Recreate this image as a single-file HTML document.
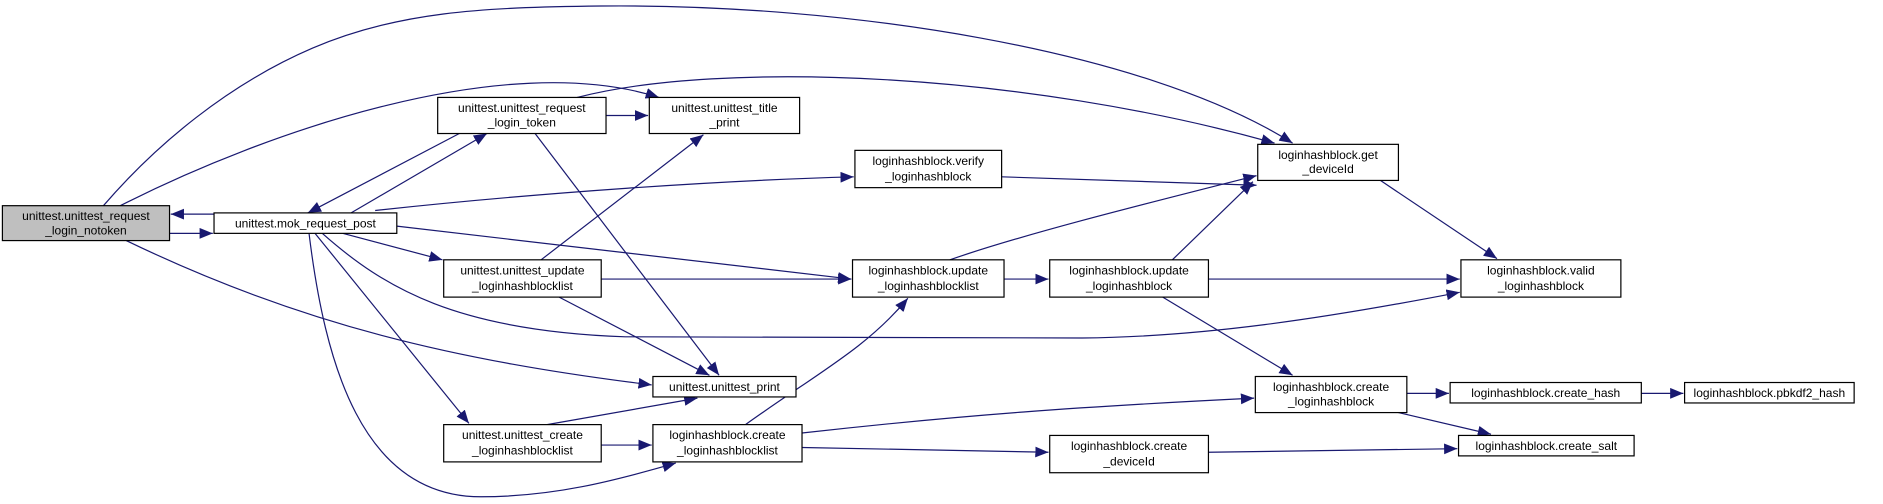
<!DOCTYPE html>
<html><head><meta charset="utf-8"><style>html,body{margin:0;padding:0;background:#fff}svg{display:block}</style></head>
<body>
<svg width="1883" height="504" viewBox="0 0 1566 419" preserveAspectRatio="none" xmlns="http://www.w3.org/2000/svg">
<defs>
<marker id="a" markerUnits="userSpaceOnUse" markerWidth="12" markerHeight="10" refX="11" refY="4.5" orient="auto">
<path d="M0,0 L11,4.5 L0,9 Z" fill="#191970"/>
</marker>
</defs>
<g fill="none" stroke="#191970" stroke-width="1" marker-end="url(#a)">
<path d="M86,171 C130,120 190,70 260,40 C330,10 400,6 500,5 C700,3 950,40 1075,119"/>
<path d="M100,171 C220,110 420,40 548,81"/>
<path d="M178,178 L142,178"/>
<path d="M141,194 L177,194"/>
<path d="M292,177 L405,111"/>
<path d="M382,111 L256,177"/>
<path d="M504,96 L539,96"/>
<path d="M480,81 C600,50 850,60 1060,119"/>
<path d="M445,111 L598,312"/>
<path d="M312,175 C450,160 600,150 710,147"/>
<path d="M330,188 L708,232"/>
<path d="M285,194 L368,216"/>
<path d="M268,194 C320,240 380,275 520,280 L900,281 C1000,280 1100,265 1214,243"/>
<path d="M105,200 C250,270 380,300 542,320"/>
<path d="M262,194 L390,352"/>
<path d="M257,194 C270,300 300,413 400,413 C460,413 510,400 562,385"/>
<path d="M450,216 L585,112"/>
<path d="M500,232 L708,232"/>
<path d="M465,247 L590,312"/>
<path d="M455,353 L580,331"/>
<path d="M500,370 L542,370"/>
<path d="M620,353 C680,310 720,290 755,248"/>
<path d="M667,360 C800,345 900,338 1043,331"/>
<path d="M667,372 L872,376"/>
<path d="M790,216 C850,195 950,170 1045,146"/>
<path d="M835,232 L872,232"/>
<path d="M833,147 L1045,154"/>
<path d="M975,216 L1042,151"/>
<path d="M1005,232 L1214,232"/>
<path d="M967,247 L1075,312"/>
<path d="M1148,150 L1245,215"/>
<path d="M1170,327 L1205,327"/>
<path d="M1163,343 L1240,361"/>
<path d="M1365,327 L1400,327"/>
<path d="M1005,376 L1212,373"/>
</g>
<g stroke="#000" stroke-width="1" fill="#fff">
<rect x="2" y="171" width="139" height="29" fill="#bfbfbf"/>
<rect x="178" y="177" width="152" height="17"/>
<rect x="364" y="81" width="140" height="30"/>
<rect x="540" y="81" width="125" height="30"/>
<rect x="711" y="125" width="122" height="31"/>
<rect x="1046" y="120" width="117" height="30"/>
<rect x="369" y="216" width="131" height="31"/>
<rect x="709" y="216" width="126" height="31"/>
<rect x="873" y="216" width="132" height="31"/>
<rect x="1215" y="216" width="133" height="31"/>
<rect x="543" y="313" width="119" height="17"/>
<rect x="369" y="353" width="131" height="31"/>
<rect x="543" y="353" width="124" height="31"/>
<rect x="1044" y="313" width="126" height="30"/>
<rect x="1206" y="318" width="159" height="17"/>
<rect x="1401" y="318" width="141" height="17"/>
<rect x="873" y="362" width="132" height="31"/>
<rect x="1213" y="362" width="146" height="17"/>
</g>
<g font-family="Liberation Sans, sans-serif" font-size="10" fill="#000" text-anchor="middle">
<text x="71.5" y="183">unittest.unittest_request</text><text x="71.5" y="195">_login_notoken</text>
<text x="254" y="189">unittest.mok_request_post</text>
<text x="434" y="93">unittest.unittest_request</text><text x="434" y="105">_login_token</text>
<text x="602.5" y="93">unittest.unittest_title</text><text x="602.5" y="105">_print</text>
<text x="772" y="137">loginhashblock.verify</text><text x="772" y="150">_loginhashblock</text>
<text x="1104.5" y="132">loginhashblock.get</text><text x="1104.5" y="144">_deviceId</text>
<text x="434.5" y="228">unittest.unittest_update</text><text x="434.5" y="241">_loginhashblocklist</text>
<text x="772" y="228">loginhashblock.update</text><text x="772" y="241">_loginhashblocklist</text>
<text x="939" y="228">loginhashblock.update</text><text x="939" y="241">_loginhashblock</text>
<text x="1281.5" y="228">loginhashblock.valid</text><text x="1281.5" y="241">_loginhashblock</text>
<text x="602.5" y="325">unittest.unittest_print</text>
<text x="434.5" y="365">unittest.unittest_create</text><text x="434.5" y="378">_loginhashblocklist</text>
<text x="605" y="365">loginhashblock.create</text><text x="605" y="378">_loginhashblocklist</text>
<text x="1107" y="325">loginhashblock.create</text><text x="1107" y="337">_loginhashblock</text>
<text x="1285.5" y="330">loginhashblock.create_hash</text>
<text x="1471.5" y="330">loginhashblock.pbkdf2_hash</text>
<text x="939" y="374">loginhashblock.create</text><text x="939" y="387">_deviceId</text>
<text x="1286" y="374">loginhashblock.create_salt</text>
</g>
</svg>
</body></html>
